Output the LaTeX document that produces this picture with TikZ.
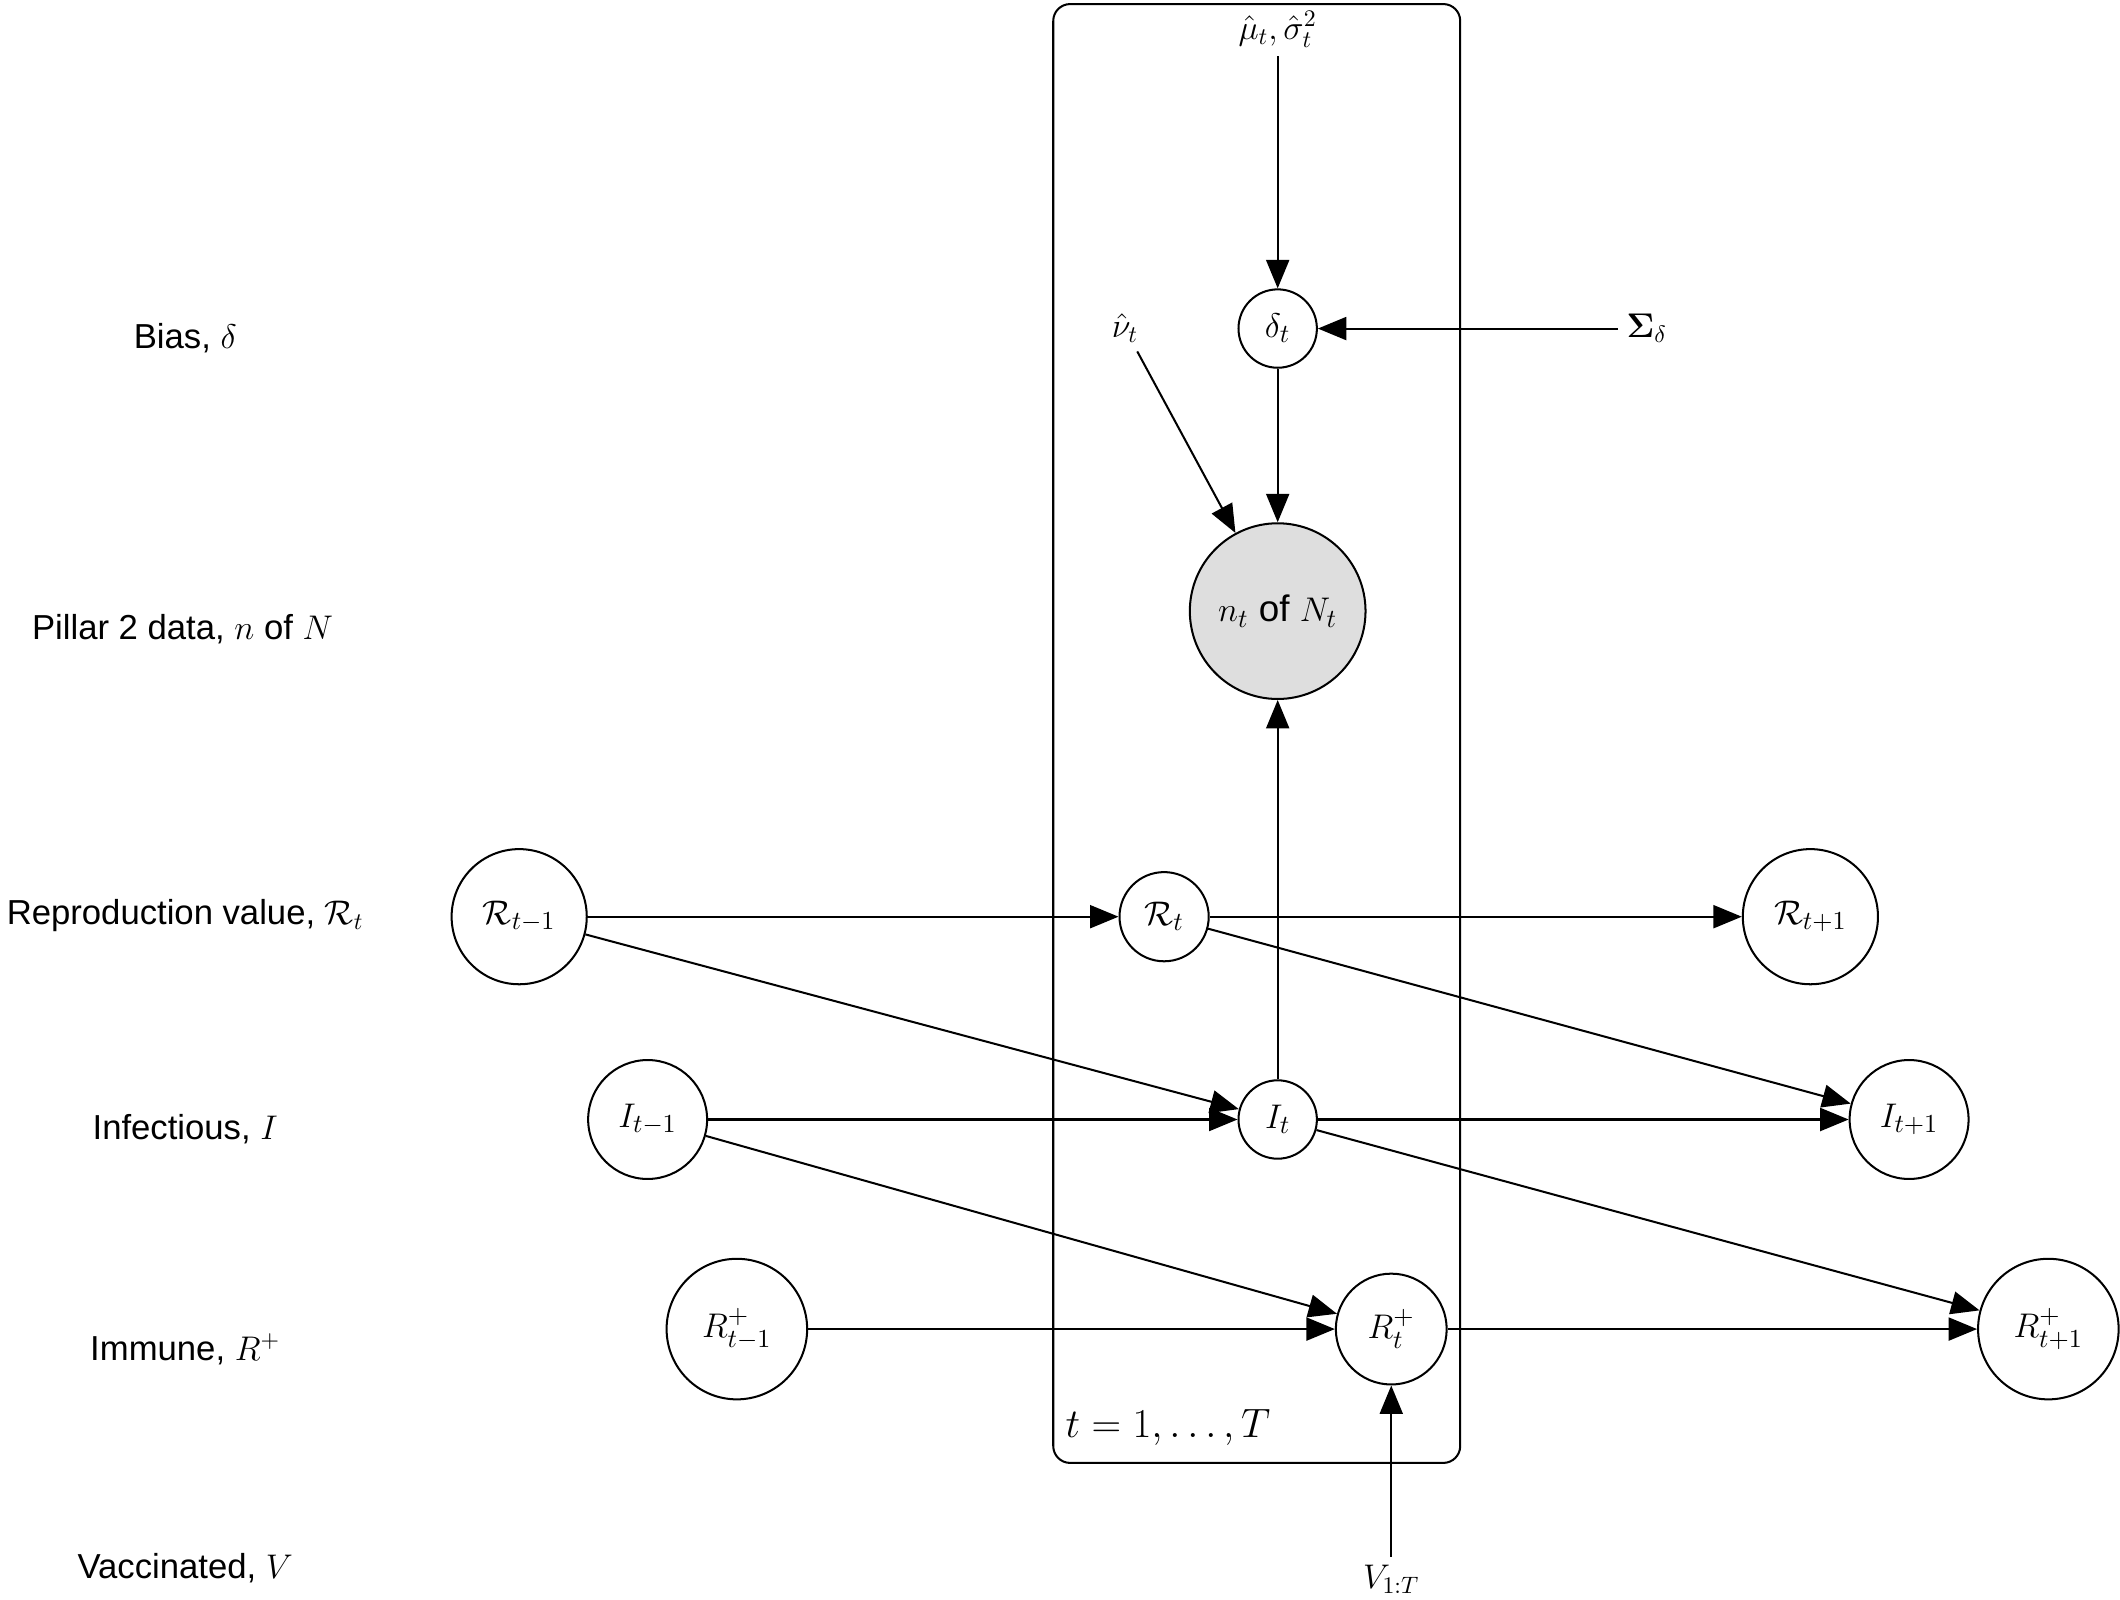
\documentclass[tikz,border=0pt]{standalone}
\usepackage{amsmath,bm}
\usepackage{fontspec}
\setmainfont{Liberation Sans}
\usetikzlibrary{arrows.meta}
\begin{document}
\begin{tikzpicture}[x=0.02cm,y=-0.02cm,font=\fontsize{14.6}{16}\selectfont,
  v/.style={circle,draw,line width=0.85pt,inner sep=0pt,minimum size=#1*0.04cm,font=\fontsize{15.5}{17}\selectfont},
  a/.style={line width=0.85pt,-{Triangle[length=0.42cm,width=0.34cm]}}]
\useasboundingbox (0,0) rectangle (1568,1183);
\draw[line width=0.85pt,rounded corners=0.25cm] (779,3) rectangle (1080,1082);
\node[anchor=south west] (plate) at (782,1075) {\fontsize{17}{19}\selectfont $t=1,\ldots,T$};
% left labels
\node (lb) at (137,250) {Bias, $\delta$};
\node (lp) at (135,465) {Pillar 2 data, $n$ of $N$};
\node (lr) at (137,677) {Reproduction value, $\mathcal{R}_t$};
\node (li) at (137,835) {Infectious, $I$};
\node (lim) at (137,998) {Immune, $R^{+}$};
\node (lv) at (137,1160) {Vaccinated, $V$};
% nodes
\node (mu) at (945,22) {$\hat\mu_t,\hat\sigma_t^2$};
\node[v=29] (d) at (945,243) {$\delta_t$};
\node (S) at (1218,243) {$\bm{\Sigma}_\delta$};
\node (nu) at (832,243) {$\hat\nu_t$};
\node[v=65,fill=black!13] (n) at (945,452) {$n_t$ of $N_t$};
\node[v=50] (R0) at (384,678) {$\mathcal{R}_{t-1}$};
\node[v=33] (R1) at (861,678) {$\mathcal{R}_{t}$};
\node[v=50] (R2) at (1339,678) {$\mathcal{R}_{t+1}$};
\node[v=44] (I0) at (479,828) {$I_{t-1}$};
\node[v=29] (I1) at (945,828) {$I_{t}$};
\node[v=44] (I2) at (1412,828) {$I_{t+1}$};
\node[v=52] (P0) at (545,983) {$R^{+}_{t-1}$};
\node[v=41] (P1) at (1029,983) {$R^{+}_{t}$};
\node[v=52] (P2) at (1515,983) {$R^{+}_{t+1}$};
\node (V) at (1029,1168) {$V_{1:T}$};
% edges
\draw[a] (mu) -- (d);
\draw[a] (S) -- (d);
\draw[a] (d) -- (n);
\draw[a] (nu) -- (n);
\draw[a] (I1) -- (n);
\draw[a] (R0) -- (R1);
\draw[a] (R1) -- (R2);
\draw[a] (R0) -- (I1);
\draw[a] (R1) -- (I2);
\draw[a] (I0) -- (I1);
\draw[a] (I1) -- (I2);
\draw[a] (I0) -- (P1);
\draw[a] (I1) -- (P2);
\draw[a] (P0) -- (P1);
\draw[a] (P1) -- (P2);
\draw[a] (V) -- (P1);
\end{tikzpicture}
\end{document}
